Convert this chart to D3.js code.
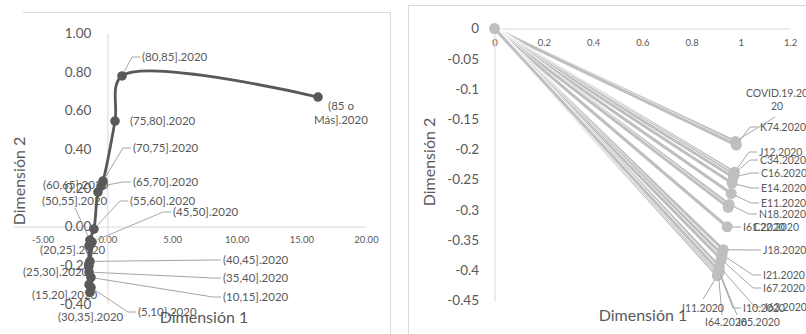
<!DOCTYPE html>
<html>
<head>
<meta charset="utf-8">
<script src="https://cdn.jsdelivr.net/npm/d3@7"></script>
<style>
  body { margin: 0; background: #fff; }
  svg { display: block; font-family: Lato, "Noto Sans", sans-serif; }
</style>
</head>
<body>
<svg id="chart" width="806" height="334"></svg>
<script>
// ---- Left chart: age groups on dimensions 1 and 2 ----
const ageGroups = [
  "(5,10].2020", "(10,15].2020", "(15,20].2020", "(20,25].2020", "(25,30].2020",
  "(30,35].2020", "(35,40].2020", "(40,45].2020", "(45,50].2020", "(50,55].2020",
  "(55,60].2020", "(60,65].2020", "(65,70].2020", "(70,75].2020", "(75,80].2020",
  "(80,85].2020", "(85 o Más].2020"
];
const ageDim1 = [-1.27, -1.27, -1.42, -1.42, -1.42, -1.35, -1.42, -1.35, -1.19, -1.35,
                 -1.04, -0.73, -0.49, -0.34, 0.59, 1.13, 16.29];
const ageDim2 = [-0.315, -0.263, -0.30, -0.10, -0.204, -0.34, -0.235, -0.18, -0.08, -0.07,
                 -0.013, 0.178, 0.209, 0.235, 0.545, 0.778, 0.669];
const leftXTicks = [-5, 0, 5, 10, 15, 20];
const leftYTicks = [-0.4, -0.2, 0, 0.2, 0.4, 0.6, 0.8, 1.0];

// ---- Right chart: causes, each drawn as a segment from the origin ----
const causes = [
  "COVID.19.2020", "K74.2020", "J12.2020", "C34.2020", "C16.2020", "E14.2020",
  "E11.2020", "N18.2020", "C22.2020", "I61.2020", "J18.2020", "I21.2020",
  "I67.2020", "I63.2020", "I10.2020", "I11.2020", "I64.2020", "I65.2020"
];
const causeDim1 = [0.978, 0.982, 0.974, 0.970, 0.970, 0.965, 0.961, 0.953, 0.949, 0.945,
                   0.929, 0.924, 0.921, 0.913, 0.909, 0.905, 0.909, 0.913];
const causeDim2 = [-0.187, -0.193, -0.238, -0.241, -0.246, -0.256, -0.273, -0.291, -0.296, -0.328,
                   -0.366, -0.374, -0.382, -0.394, -0.400, -0.409, -0.405, -0.402];
const rightXTicks = [0, 0.2, 0.4, 0.6, 0.8, 1, 1.2];
const rightYTicks = [0, -0.05, -0.1, -0.15, -0.2, -0.25, -0.3, -0.35, -0.4, -0.45];

// ---- label placement (pixel layout) ----
const leftLabelLayout = [
  { x: 138, y: 312, leader: "left" },
  { x: 223, y: 297, leader: "left" },
  { x: 32,  y: 295 },
  { x: 40,  y: 250 },
  { x: 23,  y: 272 },
  { x: 58,  y: 317 },
  { x: 223, y: 278, leader: "left" },
  { x: 223, y: 260, leader: "left" },
  { x: 173, y: 212, leader: "left" },
  { x: 42,  y: 201, leader: "point", lx: 75, ly: 208 },
  { x: 130, y: 201, leader: "left" },
  { x: 43,  y: 185 },
  { x: 133, y: 182, leader: "left" },
  { x: 133, y: 148, leader: "left" },
  { x: 130, y: 121 },
  { x: 142, y: 57,  leader: "left" },
  { x: 341, y: 106, anchor: "middle", split: 5 }
];
const rightLabelLayout = [
  { x: 777, y: 93,  anchor: "middle", split: 11, leader: "point", lx: 775, ly: 117 },
  { x: 760, y: 127, leader: "left" },
  { x: 759, y: 152, leader: "left" },
  { x: 760, y: 160, leader: "left" },
  { x: 761, y: 173, leader: "left" },
  { x: 761, y: 188, leader: "left" },
  { x: 761, y: 203, leader: "left" },
  { x: 759, y: 214, leader: "left" },
  { x: 753, y: 227 },
  { x: 743, y: 227, leader: "left" },
  { x: 763, y: 250, leader: "left" },
  { x: 763, y: 275, leader: "left" },
  { x: 763, y: 288, leader: "left" },
  { x: 765, y: 307, leader: "left" },
  { x: 743, y: 308, leader: "left" },
  { x: 682, y: 308, leader: "point", lx: 703, ly: 299 },
  { x: 705, y: 322, leader: "point", lx: 722, ly: 315 },
  { x: 738, y: 322, leader: "point", lx: 737, ly: 315 }
];

const TEXT = "#595959";
const GRID = "#d9d9d9";
const LEADER = "#a6a6a6";

const svg = d3.select("#chart");
svg.append("rect").attr("width", 806).attr("height", 334).attr("fill", "#fff");

const num2 = d => d.toFixed(2);
const numShort = d => String(+d.toFixed(2));

function styleAxis(g, size) {
  g.select(".domain").attr("stroke", GRID).attr("stroke-width", 1);
  g.selectAll(".tick line").remove();
  g.selectAll(".tick text").attr("fill", TEXT).attr("font-size", size)
    .attr("font-family", "Lato, 'Noto Sans', sans-serif");
}

function drawLabels(g, pts, names, layout, fontSize) {
  const r = 5;
  // leader lines
  layout.forEach((L, i) => {
    if (!L.leader) return;
    const [mx, my] = pts[i];
    let path;
    if (L.leader === "left") {
      const ex = L.x - 10, ey = L.y;
      const dx = mx - ex, dy = my - ey, len = Math.hypot(dx, dy) || 1;
      path = [[L.x - 2, L.y], [ex, ey], [mx - dx / len * r * -0 + 0, my]];
      path = [[L.x - 2, L.y], [ex, ey], [ex + dx * (1 - r / len), ey + dy * (1 - r / len)]];
    } else {
      const dx = mx - L.lx, dy = my - L.ly, len = Math.hypot(dx, dy) || 1;
      path = [[L.lx, L.ly], [L.lx + dx * (1 - r / len), L.ly + dy * (1 - r / len)]];
    }
    g.append("path").attr("d", d3.line()(path))
      .attr("fill", "none").attr("stroke", LEADER).attr("stroke-width", 1);
  });
  // label text
  layout.forEach((L, i) => {
    const name = names[i];
    const lines = L.split ? [name.slice(0, L.split).trim(), name.slice(L.split).trim()] : [name];
    const t = g.append("text")
      .attr("x", L.x).attr("y", L.y)
      .attr("text-anchor", L.anchor || "start")
      .attr("font-size", fontSize).attr("fill", TEXT);
    lines.forEach((s, k) => {
      t.append("tspan").attr("x", L.x).attr("dy", k === 0 ? "0.35em" : "1.25em").text(s);
    });
  });
}

// ================= LEFT CHART =================
(function () {
  const g = svg.append("g");
  // chart frame
  g.append("path").attr("d", "M23,12.5H390.5V334")
    .attr("fill", "none").attr("stroke", GRID);

  const x = d3.scaleLinear().domain([-7.3, 20]).range([13, 366]);
  const y = d3.scaleLinear().domain([-0.4, 1.0]).range([304, 33]);

  g.append("g").attr("transform", `translate(0,${y(0)})`)
    .call(d3.axisBottom(x).tickValues(leftXTicks).tickFormat(num2).tickSize(0).tickSizeOuter(0).tickPadding(10))
    .call(a => styleAxis(a, 9.5));
  g.append("g").attr("transform", `translate(${x(0)},0)`)
    .call(d3.axisLeft(y).tickValues(leftYTicks).tickFormat(num2).tickSize(0).tickSizeOuter(0).tickPadding(16))
    .call(a => styleAxis(a, 13.5));

  g.append("text").attr("transform", "translate(19,181) rotate(-90)")
    .attr("text-anchor", "middle").attr("dy", "0.35em")
    .attr("font-size", 16).attr("fill", TEXT).text("Dimensión 2");
  g.append("text").attr("x", 204).attr("y", 317)
    .attr("text-anchor", "middle").attr("dy", "0.35em")
    .attr("font-size", 16).attr("fill", TEXT).text("Dimensión 1");

  const pts = ageDim1.map((d, i) => [x(d), y(ageDim2[i])]);
  g.append("path").attr("d", d3.line().curve(d3.curveCatmullRom.alpha(0.5))(pts))
    .attr("fill", "none").attr("stroke", "#595959").attr("stroke-width", 2.8)
    .attr("stroke-linejoin", "round");
  g.selectAll("circle.age").data(pts).join("circle").attr("class", "age")
    .attr("cx", d => d[0]).attr("cy", d => d[1]).attr("r", 4.8).attr("fill", "#595959");

  drawLabels(g, pts, ageGroups, leftLabelLayout, 11.5);
})();

// ================= RIGHT CHART =================
(function () {
  const g = svg.append("g");
  g.append("path").attr("d", "M806,5.5H408.5V334")
    .attr("fill", "none").attr("stroke", GRID);

  const x = d3.scaleLinear().domain([0, 1.2]).range([494.5, 790]);
  const y = d3.scaleLinear().domain([-0.45, 0]).range([300.5, 28.5]);

  g.append("g").attr("transform", `translate(0,${y(0)})`)
    .call(d3.axisBottom(x).tickValues(rightXTicks).tickFormat(numShort).tickSize(0).tickSizeOuter(0).tickPadding(11))
    .call(a => styleAxis(a, 9.5));
  g.append("g").attr("transform", `translate(${x(0)},0)`)
    .call(d3.axisLeft(y).tickValues(rightYTicks).tickFormat(numShort).tickSize(0).tickSizeOuter(0).tickPadding(15.5))
    .call(a => styleAxis(a, 13.5));

  g.append("text").attr("transform", "translate(429,162) rotate(-90)")
    .attr("text-anchor", "middle").attr("dy", "0.35em")
    .attr("font-size", 16).attr("fill", TEXT).text("Dimensión 2");
  g.append("text").attr("x", 643).attr("y", 315)
    .attr("text-anchor", "middle").attr("dy", "0.35em")
    .attr("font-size", 16).attr("fill", TEXT).text("Dimensión 1");

  const origin = [x(0), y(0)];
  const pts = causeDim1.map((d, i) => [x(d), y(causeDim2[i])]);
  const seg = d3.line();
  pts.forEach(p => {
    g.append("path").attr("d", seg([origin, p]))
      .attr("stroke", "#fff").attr("stroke-width", 4.2).attr("fill", "none");
    g.append("path").attr("d", seg([origin, p]))
      .attr("stroke", "#bfbfbf").attr("stroke-width", 3).attr("fill", "none")
      .attr("stroke-linecap", "round");
  });
  g.append("circle").attr("cx", origin[0]).attr("cy", origin[1]).attr("r", 5.5).attr("fill", "#bfbfbf");
  g.selectAll("circle.cause").data(pts).join("circle").attr("class", "cause")
    .attr("cx", d => d[0]).attr("cy", d => d[1]).attr("r", 5.5).attr("fill", "#bfbfbf");

  drawLabels(g, pts, causes, rightLabelLayout, 10.5);
})();
</script>
</body>
</html>
